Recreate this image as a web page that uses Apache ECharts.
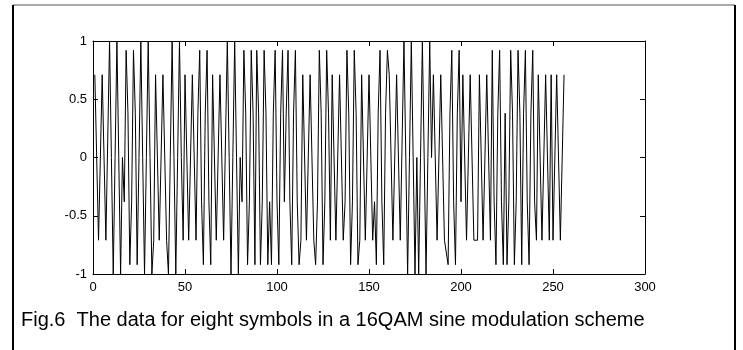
<!DOCTYPE html>
<html>
<head>
<meta charset="utf-8">
<script src="https://cdn.jsdelivr.net/npm/echarts@6/dist/echarts.min.js"></script>
<style>
html,body{margin:0;padding:0;background:#fff;}
#chart{width:743px;height:350px;}
</style>
</head>
<body>
<div id="chart"></div>
<script>
// Sample values (256 samples, x = 1..256)
const signal = [
0.71,0.71,-0.71,-0.71,0.71,0.71,-0.71,-0.71,
1,0,-1,0,1,0,-1,0,
-0.38,0.92,0.38,-0.92,-0.38,0.92,0.38,-0.92,
0,1,0,-1,0,1,0,-1,
-0.71,0.71,0.71,-0.71,-0.71,0.71,0.71,-0.71,
-1,0,1,0,-1,0,1,0,
-0.71,0.71,0.71,-0.71,-0.71,0.71,0.71,-0.71,
0.38,0.92,-0.38,-0.92,0.38,0.92,-0.38,-0.92,
0.71,0.71,-0.71,-0.71,0.71,0.71,-0.71,-0.71,
1,0,-1,0,1,0,-1,0,
-0.38,0.92,0.38,-0.92,-0.38,0.92,0.38,-0.92,
0.92,0.38,-0.92,-0.38,0.92,0.38,-0.92,-0.38,
-0.92,0.38,0.92,-0.38,-0.92,0.38,0.92,-0.38,
0.38,0.92,-0.38,-0.92,0.38,0.92,-0.38,-0.92,
-0.71,0.71,0.71,-0.71,-0.71,0.71,0.71,-0.71,
-0.92,-0.38,0.92,0.38,-0.92,-0.38,0.92,0.38,
-0.71,0.71,0.71,-0.71,-0.71,0.71,0.71,-0.71,
-0.38,0.92,0.38,-0.92,-0.38,0.92,0.38,-0.92,
-0.71,0.71,0.71,-0.71,-0.71,0.71,0.71,-0.71,
-0.38,-0.92,0.38,0.92,-0.38,-0.92,0.38,0.92,
0.71,0.71,-0.71,-0.71,0.71,0.71,-0.71,-0.71,
1,0,-1,0,1,0,-1,0,
-1,0,1,0,-1,0,1,0,
0.71,0.71,-0.71,-0.71,0.71,0.71,-0.71,-0.71,
-0.92,0.38,0.92,-0.38,-0.92,0.38,0.92,-0.38,
0.71,0.71,-0.71,-0.71,0.71,0.71,-0.71,-0.71,
-0.71,0.71,0.71,-0.71,-0.71,0.71,0.71,-0.71,
0.92,-0.38,-0.92,0.38,0.92,-0.38,-0.92,0.38,
-0.92,-0.38,0.92,0.38,-0.92,-0.38,0.92,0.38,
-0.92,0.38,0.92,-0.38,-0.92,0.38,0.92,-0.38,
-0.71,0.71,0.71,-0.71,-0.71,0.71,0.71,-0.71,
0.71,-0.71,-0.71,0.71,0.71,-0.71,-0.71,0.71
];
const xTicks = [0, 50, 100, 150, 200, 250, 300];
const yTicks = [-1, -0.5, 0, 0.5, 1];
const captionText = 'Fig.6  The data for eight symbols in a 16QAM sine modulation scheme';

const FONT = '"Liberation Sans", Arial, Helvetica, sans-serif';
const TICK_FONT = '"Liberation Sans Narrow", "Arial Narrow", "Liberation Sans", Arial, sans-serif';
const chart = echarts.init(document.getElementById('chart'), null, {renderer: 'canvas'});

const seriesData = signal.map((v, i) => [i + 1, v]);

const xMin = xTicks[0], xMax = xTicks[xTicks.length - 1], xStep = xTicks[1] - xTicks[0];
const yMin = yTicks[0], yMax = yTicks[yTicks.length - 1], yStep = yTicks[1] - yTicks[0];

function axisBase(extra) {
  return Object.assign({
    type: 'value',
    axisLine: {show: true, onZero: false, lineStyle: {color: '#000', width: 1}},
    axisTick: {show: true, inside: true, length: 5, lineStyle: {color: '#000', width: 1}},
    splitLine: {show: false}
  }, extra);
}

chart.setOption({
  animation: false,
  backgroundColor: '#fff',
  grid: {left: 93, right: 98, top: 41, bottom: 76, containLabel: false},
  xAxis: [
    axisBase({position: 'bottom', min: xMin, max: xMax, interval: xStep,
      axisLabel: {show: true, color: '#000', fontSize: 13, fontFamily: TICK_FONT, margin: 7}}),
    axisBase({position: 'top', min: xMin, max: xMax, interval: xStep, axisLabel: {show: false}})
  ],
  yAxis: [
    axisBase({position: 'left', min: yMin, max: yMax, interval: yStep,
      axisLabel: {show: true, color: '#000', fontSize: 13, fontFamily: TICK_FONT, margin: 6}}),
    axisBase({position: 'right', min: yMin, max: yMax, interval: yStep, axisLabel: {show: false}})
  ],
  series: [{
    type: 'line',
    xAxisIndex: 0,
    yAxisIndex: 0,
    data: seriesData,
    showSymbol: false,
    symbol: 'none',
    lineStyle: {color: '#000', width: 1},
    silent: true
  }],
  graphic: [
    {type: 'line', shape: {x1: 13, y1: 5, x2: 735, y2: 5}, style: {stroke: '#555', lineWidth: 1}},
    {type: 'line', shape: {x1: 13, y1: 5, x2: 13, y2: 352}, style: {stroke: '#000', lineWidth: 2}},
    {type: 'line', shape: {x1: 735, y1: 5, x2: 735, y2: 352}, style: {stroke: '#000', lineWidth: 2}},
    {type: 'text', x: 21, y: 320, style: {text: captionText, font: '20px ' + FONT, fill: '#000', textVerticalAlign: 'middle', textAlign: 'left'}},
    {type: 'text', x: 597, y: -12, style: {text: 'g', font: '20px ' + FONT, fill: '#000', textVerticalAlign: 'middle', textAlign: 'center'}}
  ]
});
</script>
</body>
</html>
